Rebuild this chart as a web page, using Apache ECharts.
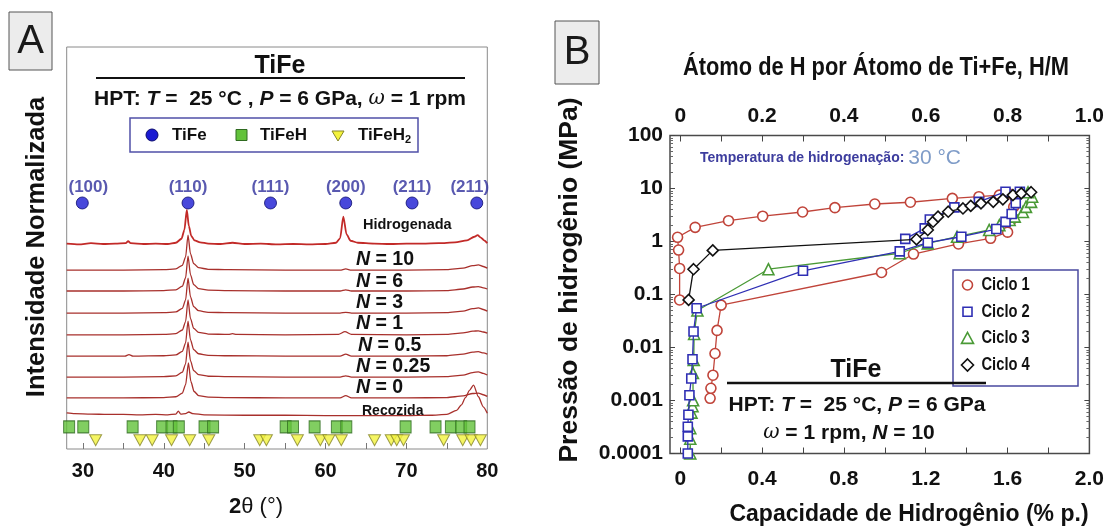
<!DOCTYPE html>
<html>
<head>
<meta charset="utf-8">
<script src="https://cdn.jsdelivr.net/npm/echarts@6/dist/echarts.min.js"></script>
<style>
html,body{margin:0;padding:0;background:#fff;}
#chart{width:1107px;height:527px;}
</style>
</head>
<body>
<div id="chart"></div>
<script>
// ===== Panel A: XRD patterns of HPT-processed TiFe =====
const twoThetaLabels = [30, 40, 50, 60, 70, 80];
const twoThetaTicks = [30, 35, 40, 45, 50, 55, 60, 65, 70, 75];

// normalized intensity (stacked), 2theta in degrees
const xrdHidrogenada = [[28,51.1],[29.5,50.9],[31,51.2],[32.5,51.0],[34,51.1],[35.3,51.2],[35.6,51.7],[35.9,51.2],[37.5,51.0],[39,51.1],[40.5,51.0],[41.5,51.3],[42.2,52.3],[42.55,54.5],[42.85,59.5],[43.1,55.5],[43.4,53.0],[43.8,51.9],[44.5,51.4],[45.5,51.1],[47,51.0],[48.5,51.3],[50,51.0],[52,51.1],[54,50.9],[56,51.0],[58,50.9],[60,51.0],[61.3,51.3],[61.8,52.4],[62.2,57.8],[62.6,53.4],[63.1,51.8],[64,51.3],[66,51.1],[68,51.0],[70,51.1],[72,51.1],[74,51.2],[76,51.4],[77.5,51.9],[78.4,52.8],[78.8,53.2],[79.2,52.6],[79.6,51.9],[80,51.2]];
const xrdN10 = [[28,44.5],[35,44.5],[40,44.6],[41.5,44.8],[42.3,45.7],[42.7,47.8],[43.0,53.2],[43.3,48.6],[43.7,46.1],[44.3,45.1],[45.5,44.7],[48,44.6],[55,44.5],[61.8,44.5],[62.5,44.8],[63.2,44.5],[70,44.5],[75,44.6],[77,45.0],[78.2,45.6],[78.9,45.8],[79.5,45.4],[80,45.0]];
const xrdN6 = [[28,39.3],[35,39.3],[40,39.4],[41.5,39.6],[42.3,40.5],[42.7,42.6],[43.0,48.0],[43.3,43.4],[43.7,40.9],[44.3,39.9],[45.5,39.5],[48,39.4],[55,39.3],[61.8,39.3],[62.5,39.6],[63.2,39.3],[70,39.3],[75,39.4],[77,39.8],[78.2,40.3],[78.9,40.4],[79.5,40.1],[80,39.8]];
const xrdN3 = [[28,33.8],[35,33.8],[40,33.9],[41.5,34.1],[42.3,35.0],[42.7,37.1],[43.0,42.5],[43.3,37.9],[43.7,35.4],[44.3,34.4],[45.5,34.0],[48,33.9],[55,33.8],[61.8,33.8],[62.5,34.0],[63.2,33.8],[70,33.8],[75,33.9],[77,34.3],[78.2,34.9],[78.9,35.1],[79.5,34.7],[80,34.3]];
const xrdN1 = [[28,28.4],[35,28.4],[40,28.5],[41.5,28.7],[42.3,29.6],[42.7,31.7],[43.0,37.1],[43.3,32.5],[43.7,30.0],[44.3,29.0],[45.5,28.6],[48,28.5],[48.5,28.7],[49,28.5],[55,28.4],[61.6,28.5],[62.4,29.2],[63.2,28.5],[70,28.4],[75,28.5],[77,28.9],[78.2,29.3],[78.9,29.4],[79.5,29.1],[80,28.8]];
const xrdN05 = [[28,23.1],[35.2,23.1],[35.7,23.5],[36.2,23.1],[40,23.2],[41.5,23.4],[42.3,24.3],[42.7,26.4],[43.0,31.8],[43.3,27.2],[43.7,24.7],[44.3,23.7],[45.5,23.3],[48,23.2],[55,23.1],[61.8,23.1],[62.5,23.6],[63.2,23.1],[70,23.1],[75,23.2],[77,23.6],[78.2,24.1],[78.9,24.2],[79.5,23.9],[80,23.6]];
const xrdN025 = [[28,17.9],[35,17.9],[40,18.0],[41.5,18.2],[42.3,19.1],[42.7,21.2],[43.0,26.6],[43.3,22.0],[43.7,19.5],[44.3,18.5],[45.5,18.1],[48,18.0],[55,17.9],[61.8,17.9],[62.5,18.2],[63.2,17.9],[70,17.9],[75,18.0],[77,18.4],[78.2,19.0],[78.9,19.2],[79.5,18.8],[80,18.4]];
const xrdN0 = [[28,12.7],[35,12.7],[40,12.8],[41.5,13.0],[42.3,13.9],[42.7,16.0],[43.05,21.4],[43.35,16.8],[43.75,14.3],[44.3,13.3],[45.5,12.9],[48,12.8],[55,12.7],[61.8,12.7],[62.5,13.3],[63.2,12.7],[70,12.7],[75,12.8],[77,13.2],[78.2,13.8],[78.9,13.9],[79.5,13.5],[80,13.1]];
const xrdRecozida = [[28,9.0],[29,8.8],[31,8.7],[33,8.6],[35,8.6],[37,8.5],[39,8.6],[40.5,8.5],[41.5,8.7],[41.8,9.4],[42.1,8.7],[42.7,8.8],[43.1,9.2],[43.6,8.8],[45,8.5],[50,8.4],[55,8.4],[60,8.3],[65,8.3],[70,8.3],[73,8.4],[75,8.6],[76.2,9.6],[76.8,11.0],[77.3,12.8],[77.8,14.6],[78.3,15.9],[78.9,13.0],[79.5,10.5],[80,8.9]];

const traceNames = ['Hidrogenada','N = 10','N = 6','N = 3','N = 1','N = 0.5','N = 0.25','N = 0','Recozida'];
const traceData = [xrdHidrogenada, xrdN10, xrdN6, xrdN3, xrdN1, xrdN05, xrdN025, xrdN0, xrdRecozida];

// reference peak positions (2theta)
const tifePeaks = [29.93, 43.0, 53.2, 62.5, 70.7, 78.7];
const tifeHkl = ['(100)','(110)','(111)','(200)','(211)','(211)'];
const tifehPeaks = [28.3, 30.05, 36.15, 39.8, 40.96, 41.86, 45.04, 46.1, 55.07, 55.98, 58.65, 61.4, 62.57, 69.9, 73.6, 75.5, 76.77, 77.8];
const tifeh2Peaks = [31.58, 37.05, 38.57, 40.96, 43.2, 45.57, 51.86, 52.69, 56.52, 59.36, 60.42, 61.95, 66.06, 68.12, 68.8, 69.64, 74.6, 76.96, 78.0, 79.15];

// ===== Panel B: PCT isotherms =====
const capLabels = [0, 0.4, 0.8, 1.2, 1.6, 2.0];
const capTicks = [0, 0.2, 0.4, 0.6, 0.8, 1.0, 1.2, 1.4, 1.6, 1.8];
const hmLabels = [0, 0.2, 0.4, 0.6, 0.8, 1.0];
const hmTicks = [0, 0.1, 0.2, 0.3, 0.4, 0.5, 0.6, 0.7, 0.8, 0.9];

// [capacity wt%, pressure MPa]
const ciclo1 = [[0.146,0.0011],[0.150,0.0017],[0.16,0.0030],[0.17,0.0077],[0.18,0.021],[0.20,0.063],[0.984,0.26],[1.14,0.58],[1.36,0.90],[1.517,1.15],[1.60,1.5],[1.62,2.6],[1.63,4.5],[1.60,8.2],[1.56,7.5],[1.46,7.0],[1.33,6.5],[1.125,5.5],[0.951,5.1],[0.756,4.35],[0.598,3.6],[0.403,3.0],[0.236,2.47],[0.073,1.85],[-0.013,1.2],[-0.008,0.69],[-0.003,0.31],[-0.003,0.079]];
const ciclo2 = [[0.037,0.0001],[0.037,0.00021],[0.037,0.00032],[0.040,0.00054],[0.045,0.00126],[0.054,0.0026],[0.060,0.0060],[0.065,0.020],[0.08,0.055],[0.60,0.28],[1.073,0.65],[1.21,0.95],[1.374,1.23],[1.545,1.72],[1.59,2.35],[1.62,3.3],[1.64,5.3],[1.66,8.7],[1.59,8.7],[1.46,5.6],[1.34,4.4],[1.22,2.6],[1.195,1.77],[1.10,1.12]];
const ciclo3 = [[0.049,0.0001],[0.049,0.00019],[0.049,0.00030],[0.055,0.00059],[0.060,0.00078],[0.063,0.00101],[0.062,0.0033],[0.066,0.0058],[0.068,0.018],[0.084,0.05],[0.431,0.30],[1.073,0.60],[1.21,0.92],[1.353,1.23],[1.51,1.65],[1.56,2.04],[1.61,2.55],[1.635,2.95],[1.675,3.6],[1.69,4.5],[1.715,5.6],[1.72,7.0],[1.70,8.5]];
const ciclo4 = [[0.041,0.079],[0.065,0.30],[0.159,0.68],[1.155,1.10],[1.21,1.65],[1.236,2.36],[1.26,2.94],[1.31,3.65],[1.382,4.2],[1.42,4.7],[1.47,5.25],[1.53,5.6],[1.577,6.25],[1.626,7.5],[1.667,8.1],[1.715,8.5]];
const cycleNames = ['Ciclo 1','Ciclo 2','Ciclo 3','Ciclo 4'];

// ---------- styling ----------
const FONT = '"Liberation Sans", Arial, sans-serif';
const traceColor = '#a8302c';
const cycleColors = ['#c0443a', '#2f2fb4', '#4a9a36', '#111111'];
const cycleSymbols = ['circle', 'rect', 'triangle', 'diamond'];
const cycleSymbolSize = [10, 9, 11, 11];

// log10 positions of minor ticks on the pressure axis
const minorLog = [];
for (let e = -4; e < 2; e++) for (let k = 2; k <= 9; k++) minorLog.push(e + Math.log10(k));

const chart = echarts.init(document.getElementById('chart'), null, {renderer: 'canvas'});

const ROW_TIFE = 61.2, ROW_TIFEH = 5.5, ROW_TIFEH2 = 2.2;

const series = [];
traceData.forEach((d, i) => {
  series.push({
    type: 'line', name: traceNames[i], xAxisIndex: 0, yAxisIndex: 0,
    data: d, showSymbol: false, symbol: 'none', smooth: 0.25, smoothMonotone: 'x',
    lineStyle: {color: i === 0 ? '#c22a28' : traceColor, width: i === 0 ? 1.8 : 1.3},
    z: 3
  });
});
series.push({
  type: 'scatter', xAxisIndex: 0, yAxisIndex: 0, symbol: 'circle', symbolSize: 12,
  itemStyle: {color: '#1a1ad2', borderColor: '#0b0b6e', borderWidth: 1},
  data: tifePeaks.map((x, i) => {
    const item = {value: [x, ROW_TIFE]};
    if (i === 0) item.label = {offset: [6, 0]};
    if (i === tifePeaks.length - 1) item.label = {offset: [-7, 0]};
    return item;
  }),
  label: {show: true, position: 'top', distance: 1,
    formatter: p => tifeHkl[p.dataIndex],
    color: '#2f2f9c', fontFamily: FONT, fontWeight: 'bold', fontSize: 17},
  z: 5
});
series.push({
  type: 'scatter', xAxisIndex: 0, yAxisIndex: 0, symbol: 'rect', symbolSize: [11, 12],
  itemStyle: {color: '#62c23a', borderColor: '#2f6a20', borderWidth: 1},
  data: tifehPeaks.map(x => [x, ROW_TIFEH]), z: 5
});
series.push({
  type: 'scatter', xAxisIndex: 0, yAxisIndex: 0, symbol: 'path://M0,0 L10,0 L5,9 Z', symbolSize: [12, 11],
  itemStyle: {color: '#f3f23c', borderColor: '#85852a', borderWidth: 1},
  data: tifeh2Peaks.map(x => [x, ROW_TIFEH2]), z: 6
});

[ciclo1, ciclo3, ciclo2, ciclo4].forEach((d, j) => {
  const i = [0, 2, 1, 3][j];
  series.push({
    type: 'line', name: cycleNames[i], xAxisIndex: 1, yAxisIndex: 1, data: d,
    symbol: cycleSymbols[i], symbolSize: cycleSymbolSize[i], showAllSymbol: true,
    itemStyle: {color: '#ffffff', borderColor: cycleColors[i], borderWidth: 1.6},
    lineStyle: {color: cycleColors[i], width: 1.3},
    z: 3 + j
  });
});

const tickLabelA = {fontFamily: FONT, fontWeight: 'bold', fontSize: 20, color: '#111'};
const tickLabelB = {fontFamily: FONT, fontWeight: 'bold', fontSize: 21, color: '#111'};
const fmt1 = v => (v === 0 ? '0' : v.toFixed(1));
const noLine = {show: false, onZero: false};

function txt(x, y, text, font, fill, align, extra) {
  const el = {type: 'text', x: x, y: y, z: 50,
    style: {text: text, font: font, fill: fill || '#111',
      align: align || 'left', verticalAlign: 'middle',
      textAlign: align || 'left', textVerticalAlign: 'middle'}};
  if (extra) Object.keys(extra).forEach(k => { el[k] = extra[k]; });
  return el;
}

function buildGraphics() {
  const g = [];
  // panel letters
  g.push({type: 'rect', shape: {x: 9, y: 12, width: 43, height: 58}, style: {fill: '#ececec', stroke: '#555', lineWidth: 1}, z: 40});
  g.push(txt(30.5, 42, 'A', '40px ' + FONT, '#1a1a1a', 'center'));
  g.push({type: 'rect', shape: {x: 555, y: 21, width: 44, height: 63}, style: {fill: '#ececec', stroke: '#555', lineWidth: 1}, z: 40});
  g.push(txt(577, 53, 'B', '40px ' + FONT, '#1a1a1a', 'center'));

  // panel A header
  g.push(txt(280, 66, 'TiFe', 'bold 25px ' + FONT, '#111', 'center'));
  g.push({type: 'line', shape: {x1: 96, y1: 78, x2: 465, y2: 78}, style: {stroke: '#111', lineWidth: 2}, z: 40});
  g.push({type: 'text', x: 280, y: 99, z: 50, style: {
    text: '{n|HPT: }{i|T}{n| =  25 °C , }{i|P}{n| = 6 GPa, }{w|ω}{n| = 1 rpm}',
    align: 'center', verticalAlign: 'middle', textAlign: 'center', textVerticalAlign: 'middle',
    rich: {
      n: {fontFamily: FONT, fontWeight: 'bold', fontSize: 21, fill: '#111', color: '#111'},
      i: {fontFamily: FONT, fontWeight: 'bold', fontStyle: 'italic', fontSize: 21, fill: '#111', color: '#111'},
      w: {fontFamily: '"DejaVu Serif", serif', fontStyle: 'italic', fontSize: 20, fill: '#111', color: '#111'}
    }}});
  // phase legend
  g.push({type: 'rect', shape: {x: 130, y: 118, width: 288, height: 34}, style: {fill: '#fff', stroke: '#5050a8', lineWidth: 1.5}, z: 40});
  g.push({type: 'circle', shape: {cx: 152, cy: 135, r: 6}, style: {fill: '#1a1ad2', stroke: '#0b0b6e', lineWidth: 1}, z: 41});
  g.push(txt(172, 135, 'TiFe', 'bold 17px ' + FONT));
  g.push({type: 'rect', shape: {x: 236, y: 129.5, width: 11, height: 11}, style: {fill: '#62c23a', stroke: '#2f6a20', lineWidth: 1}, z: 41});
  g.push(txt(260, 135, 'TiFeH', 'bold 17px ' + FONT));
  g.push({type: 'polygon', shape: {points: [[332, 131], [344, 131], [338, 141]]}, style: {fill: '#f3f23c', stroke: '#85852a', lineWidth: 1}, z: 41});
  g.push({type: 'text', x: 358, y: 135, z: 50, style: {
    text: '{n|TiFeH}{s|2}', verticalAlign: 'middle', textVerticalAlign: 'middle',
    rich: {n: {fontFamily: FONT, fontWeight: 'bold', fontSize: 17, fill: '#111', color: '#111'},
           s: {fontFamily: FONT, fontWeight: 'bold', fontSize: 11, fill: '#111', color: '#111', padding: [9, 0, 0, 0]}}}});

  // trace names
  g.push(txt(363, 225, 'Hidrogenada', 'bold 14.5px ' + FONT));
  const nLabels = [['10', 356, 260], ['6', 356, 282], ['3', 356, 303], ['1', 356, 324], ['0.5', 358, 346], ['0.25', 356, 367], ['0', 356, 388]];
  nLabels.forEach(l => {
    g.push({type: 'text', x: l[1], y: l[2], z: 50, style: {
      text: '{i|N}{n| = ' + l[0] + '}', verticalAlign: 'middle', textVerticalAlign: 'middle',
      rich: {i: {fontFamily: FONT, fontWeight: 'bold', fontStyle: 'italic', fontSize: 19.5, fill: '#111', color: '#111'},
             n: {fontFamily: FONT, fontWeight: 'bold', fontSize: 19.5, fill: '#111', color: '#111'}}}});
  });
  g.push(txt(362, 411, 'Recozida', 'bold 14px ' + FONT));

  // axis titles panel A
  g.push(txt(37, 247, 'Intensidade Normalizada', 'bold 25.5px ' + FONT, '#111', 'center', {rotation: Math.PI / 2}));
  g.push({type: 'text', x: 256, y: 507, z: 50, style: {
    text: '{b|2}{n|θ (°)}', align: 'center', verticalAlign: 'middle', textAlign: 'center', textVerticalAlign: 'middle',
    rich: {b: {fontFamily: FONT, fontWeight: 'bold', fontSize: 22, fill: '#111', color: '#111'},
           n: {fontFamily: FONT, fontSize: 22, fill: '#111', color: '#111'}}}});

  // panel B titles
  g.push(txt(876, 68, 'Átomo de H por Átomo de Ti+Fe, H/M', 'bold 26px ' + FONT, '#111', 'center', {scaleX: 0.84}));
  g.push(txt(909, 515, 'Capacidade de Hidrogênio (% p.)', 'bold 23px ' + FONT, '#111', 'center'));
  g.push(txt(570, 280, 'Pressão de hidrogênio (MPa)', 'bold 26.5px ' + FONT, '#111', 'center', {rotation: Math.PI / 2}));

  // hydrogenation temperature note
  g.push({type: 'text', x: 700, y: 158, z: 50, style: {
    text: '{a|Temperatura de hidrogenação: }{b|30 °C}', verticalAlign: 'middle', textVerticalAlign: 'middle',
    rich: {a: {fontFamily: FONT, fontWeight: 'bold', fontSize: 14, fill: '#3d3d9e', color: '#3d3d9e'},
           b: {fontFamily: FONT, fontSize: 21, fill: '#7f9cc8', color: '#7f9cc8'}}}});

  // cycle legend
  g.push({type: 'rect', shape: {x: 953, y: 270, width: 125, height: 116}, style: {fill: '#fff', stroke: '#4a4aa0', lineWidth: 1.5}, z: 40});
  const ly = [285, 311.7, 338.4, 365];
  const sym = [
    {type: 'circle', shape: {cx: 967.5, cy: ly[0], r: 5}},
    {type: 'rect', shape: {x: 963, y: ly[1] - 4.5, width: 9, height: 9}},
    {type: 'polygon', shape: {points: [[961.5, ly[2] + 5], [973.5, ly[2] + 5], [967.5, ly[2] - 6]]}},
    {type: 'polygon', shape: {points: [[967.5, ly[3] - 6], [973.5, ly[3]], [967.5, ly[3] + 6], [961.5, ly[3]]]}}
  ];
  sym.forEach((s, i) => {
    s.style = {fill: '#fff', stroke: cycleColors[i], lineWidth: 1.6};
    s.z = 41;
    g.push(s);
    g.push(txt(981.5, ly[i], cycleNames[i], 'bold 17.5px ' + FONT, '#111', 'left', {scaleX: 0.84}));
  });

  // sample annotation in panel B
  g.push(txt(856, 370, 'TiFe', 'bold 25px ' + FONT, '#111', 'center'));
  g.push({type: 'line', shape: {x1: 727, y1: 383, x2: 986, y2: 383}, style: {stroke: '#111', lineWidth: 2.5}, z: 40});
  g.push({type: 'text', x: 857, y: 405, z: 50, style: {
    text: '{n|HPT: }{i|T}{n| =  25 °C, }{i|P}{n| = 6 GPa}',
    align: 'center', verticalAlign: 'middle', textAlign: 'center', textVerticalAlign: 'middle',
    rich: {n: {fontFamily: FONT, fontWeight: 'bold', fontSize: 21, fill: '#111', color: '#111'},
           i: {fontFamily: FONT, fontWeight: 'bold', fontStyle: 'italic', fontSize: 21, fill: '#111', color: '#111'}}}});
  g.push({type: 'text', x: 849, y: 433, z: 50, style: {
    text: '{w|ω}{n| = 1 rpm, }{i|N}{n| = 10}',
    align: 'center', verticalAlign: 'middle', textAlign: 'center', textVerticalAlign: 'middle',
    rich: {n: {fontFamily: FONT, fontWeight: 'bold', fontSize: 21, fill: '#111', color: '#111'},
           i: {fontFamily: FONT, fontWeight: 'bold', fontStyle: 'italic', fontSize: 21, fill: '#111', color: '#111'},
           w: {fontFamily: '"DejaVu Serif", serif', fontStyle: 'italic', fontSize: 20, fill: '#111', color: '#111'}}}});
  return g;
}

const option = {
  animation: false,
  backgroundColor: '#ffffff',
  grid: [
    {left: 66.7, top: 47, width: 420.6, height: 402, show: true, borderColor: '#8a8a8a', borderWidth: 1, backgroundColor: 'transparent'},
    {left: 670, top: 135.5, width: 420.5, height: 318, show: true, borderColor: '#4a4a4a', borderWidth: 1.5, backgroundColor: 'transparent'}
  ],
  xAxis: [
    {gridIndex: 0, type: 'value', min: 28, max: 80, position: 'bottom',
      axisLine: noLine, splitLine: {show: false},
      axisTick: {show: true, inside: true, length: 6, customValues: twoThetaTicks, lineStyle: {color: '#777'}},
      axisLabel: Object.assign({customValues: twoThetaLabels, margin: 12}, tickLabelA)},
    {gridIndex: 1, type: 'value', min: -0.05, max: 2.0, position: 'bottom',
      axisLine: noLine, splitLine: {show: false},
      axisTick: {show: true, inside: true, length: 6, customValues: capTicks, lineStyle: {color: '#444'}},
      axisLabel: Object.assign({customValues: capLabels, margin: 15, formatter: fmt1}, tickLabelB)},
    {gridIndex: 1, type: 'value', min: -0.025, max: 1.0, position: 'top',
      axisLine: noLine, splitLine: {show: false},
      axisTick: {show: true, inside: true, length: 6, customValues: hmTicks, lineStyle: {color: '#444'}},
      axisLabel: Object.assign({customValues: hmLabels, margin: 9, formatter: fmt1}, tickLabelB)}
  ],
  yAxis: [
    {gridIndex: 0, type: 'value', min: 0, max: 100, show: false},
    {gridIndex: 1, type: 'log', logBase: 10, min: 0.0001, max: 100, position: 'left',
      axisLine: noLine, splitLine: {show: false},
      axisTick: {show: true, inside: true, length: 5, lineStyle: {color: '#444'}},
      axisLabel: Object.assign({margin: 7, formatter: v => String(v)}, tickLabelB)},
    {gridIndex: 1, type: 'value', min: -4, max: 2, position: 'left',
      axisLine: noLine, splitLine: {show: false}, axisLabel: {show: false},
      axisTick: {show: true, inside: true, length: 3, customValues: minorLog, lineStyle: {color: '#666'}}},
    {gridIndex: 1, type: 'log', logBase: 10, min: 0.0001, max: 100, position: 'right',
      axisLine: noLine, splitLine: {show: false}, axisLabel: {show: false},
      axisTick: {show: true, inside: true, length: 5, lineStyle: {color: '#444'}}},
    {gridIndex: 1, type: 'value', min: -4, max: 2, position: 'right',
      axisLine: noLine, splitLine: {show: false}, axisLabel: {show: false},
      axisTick: {show: true, inside: true, length: 3, customValues: minorLog, lineStyle: {color: '#666'}}}
  ],
  series: series,
  graphic: {elements: buildGraphics()}
};

chart.setOption(option);
</script>
</body>
</html>
